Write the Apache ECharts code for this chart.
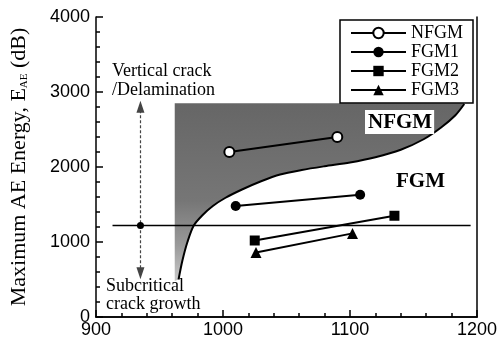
<!DOCTYPE html>
<html><head><meta charset="utf-8">
<script src="https://cdn.jsdelivr.net/npm/echarts@6/dist/echarts.min.js"></script>
<style>html,body{margin:0;padding:0;background:#fff}#c{width:500px;height:343px}</style>
</head><body><div id="c"></div>
<script>
// ---- data ----
const xTicks = [900, 1000, 1100, 1200];
const yTicks = [0, 1000, 2000, 3000, 4000];
const seriesNames = ['NFGM', 'FGM1', 'FGM2', 'FGM3'];
const nfgmX = [1005, 1090], nfgmY = [2200, 2400];
const fgm1X = [1010, 1108], fgm1Y = [1480, 1630];
const fgm2X = [1025, 1135], fgm2Y = [1020, 1350];
const fgm3X = [1026, 1102], fgm3Y = [860, 1115];
// boundary curve between NFGM (shaded) and FGM regions
const boundaryX = [965, 968, 972, 977, 984, 992, 1002, 1015, 1030, 1045, 1062, 1080, 1100, 1120, 1140, 1158, 1172, 1183, 1190];
const boundaryY = [500, 750, 1000, 1220, 1360, 1480, 1590, 1700, 1810, 1900, 1960, 2010, 2060, 2130, 2230, 2370, 2530, 2690, 2840];
const shadeLeft = 962, shadeTop = 2850;
// threshold line and its vertical double arrow
const thresholdX = [913, 1195], thresholdY = [1220, 1220];
const arrowX = [935, 935], arrowY = [583, 2804];

const zip = (xs, ys) => xs.map((x, i) => [x, ys[i]]);
const serif = 'Liberation Serif';
const sans = 'Liberation Sans';

const chart = echarts.init(document.getElementById('c'));
const lineSeries = (name, xs, ys, symbol, size, fill) => ({
  name, type: 'line', data: zip(xs, ys), symbol, symbolSize: size,
  lineStyle: { color: '#000', width: 2 },
  itemStyle: { color: fill, borderColor: '#000', borderWidth: fill === '#fff' ? 2 : 0 },
  z: 5, animation: false
});
const axisCfg = (ticks, extra) => Object.assign({
  type: 'value', min: ticks[0], max: ticks[ticks.length - 1], interval: ticks[1] - ticks[0],
  axisLine: { show: true, lineStyle: { color: '#000', width: 1.5 } },
  axisTick: { show: true, inside: true, length: 7, lineStyle: { color: '#000', width: 1.5 } },
  minorTick: { show: true, splitNumber: 5, length: 4, lineStyle: { color: '#000', width: 1.5 } },
  splitLine: { show: false }
}, extra);
const frameAxis = (ticks, pos) => ({
  type: 'value', position: pos, min: ticks[0], max: ticks[ticks.length - 1], interval: ticks[1] - ticks[0],
  axisLine: { show: true, lineStyle: { color: '#000', width: 1.5 } },
  axisTick: { show: false }, minorTick: { show: false }, axisLabel: { show: false }, splitLine: { show: false }
});

chart.setOption({
  animation: false,
  grid: { left: 93, right: 23, top: 17, bottom: 26 },
  legend: {
    orient: 'vertical', left: 340, top: 20, padding: [4, 10, 4, 10],
    itemWidth: 55, itemHeight: 13, itemGap: 1,
    borderColor: '#000', borderWidth: 1.5, backgroundColor: '#fff',
    textStyle: { fontFamily: serif, fontSize: 18, color: '#000' },
    data: seriesNames
  },
  xAxis: [
    axisCfg(xTicks, { position: 'bottom', axisLabel: { fontFamily: sans, fontSize: 18, color: '#000', margin: 4, formatter: v => String(v) } }),
    frameAxis(xTicks, 'top')
  ],
  yAxis: [
    axisCfg(yTicks, {
      position: 'left',
      name: '{m|Maximum AE Energy, E}{s|AE}{m| (dB)}', nameLocation: 'middle', nameGap: 66,
      nameTextStyle: { rich: {
        m: { fontFamily: serif, fontSize: 22, color: '#000' },
        s: { fontFamily: serif, fontSize: 11, color: '#000', padding: [10, 0, 0, 0] }
      } },
      axisLabel: { fontFamily: sans, fontSize: 18, color: '#000', margin: 6, formatter: v => String(v) }
    }),
    frameAxis(yTicks, 'right')
  ],
  series: [
    {
      type: 'custom', name: 'shade', data: [[shadeLeft, shadeTop]], z: 1, silent: true,
      renderItem: (params, api) => {
        const pts = [[shadeLeft, shadeTop], [shadeLeft, boundaryY[0] - 20]]
          .concat(zip(boundaryX, boundaryY))
          .concat([[boundaryX[boundaryX.length - 1], shadeTop]])
          .map(p => api.coord(p));
        return {
          type: 'polygon', shape: { points: pts },
          style: { fill: new echarts.graphic.LinearGradient(0, 0, 0, 1, [
            { offset: 0, color: '#666' }, { offset: 0.55, color: '#767676' }, { offset: 0.8, color: '#9a9a9a' }, { offset: 1, color: '#c8c8c8' }
          ]) }
        };
      }
    },
    {
      type: 'line', name: 'boundary', data: zip(boundaryX, boundaryY), smooth: 0.3, symbol: 'none',
      lineStyle: { color: '#000', width: 2 }, z: 3, silent: true
    },
    {
      type: 'line', name: 'threshold', data: zip(thresholdX, thresholdY), symbol: 'none',
      lineStyle: { color: '#000', width: 1.5 }, z: 4, silent: true,
      markLine: {
        silent: true, symbol: ['triangle', 'triangle'], symbolSize: [8, 12],
        lineStyle: { color: '#444', width: 1.2, type: [3, 2] }, label: { show: false },
        data: [[{ coord: [arrowX[0], arrowY[0]] }, { coord: [arrowX[1], arrowY[1]] }]]
      },
      markPoint: {
        silent: true, symbol: 'circle', symbolSize: 7, itemStyle: { color: '#000' }, label: { show: false },
        data: [{ coord: [arrowX[0], thresholdY[0]] }]
      }
    },
    lineSeries(seriesNames[0], nfgmX, nfgmY, 'circle', 10, '#fff'),
    lineSeries(seriesNames[1], fgm1X, fgm1Y, 'circle', 10, '#000'),
    lineSeries(seriesNames[2], fgm2X, fgm2Y, 'rect', 10, '#000'),
    lineSeries(seriesNames[3], fgm3X, fgm3Y, 'triangle', 11, '#000')
  ],
  graphic: [
    { type: 'text', left: 112, top: 62, z: 10, style: { text: 'Vertical crack\n/Delamination', fontFamily: serif, fontSize: 18, lineHeight: 19, fill: '#000' } },
    { type: 'text', left: 106, top: 277, z: 10, style: { text: 'Subcritical\ncrack growth', fontFamily: serif, fontSize: 18, lineHeight: 18, fill: '#000' } },
    { type: 'text', left: 365, top: 110, z: 10, style: { text: 'NFGM', fontFamily: serif, fontWeight: 'bold', fontSize: 21, fill: '#000', backgroundColor: '#fff', padding: [2, 2, 1, 3] } },
    { type: 'text', left: 396, top: 171, z: 10, style: { text: 'FGM', fontFamily: serif, fontWeight: 'bold', fontSize: 21, fill: '#000' } }
  ]
});
</script></body></html>
